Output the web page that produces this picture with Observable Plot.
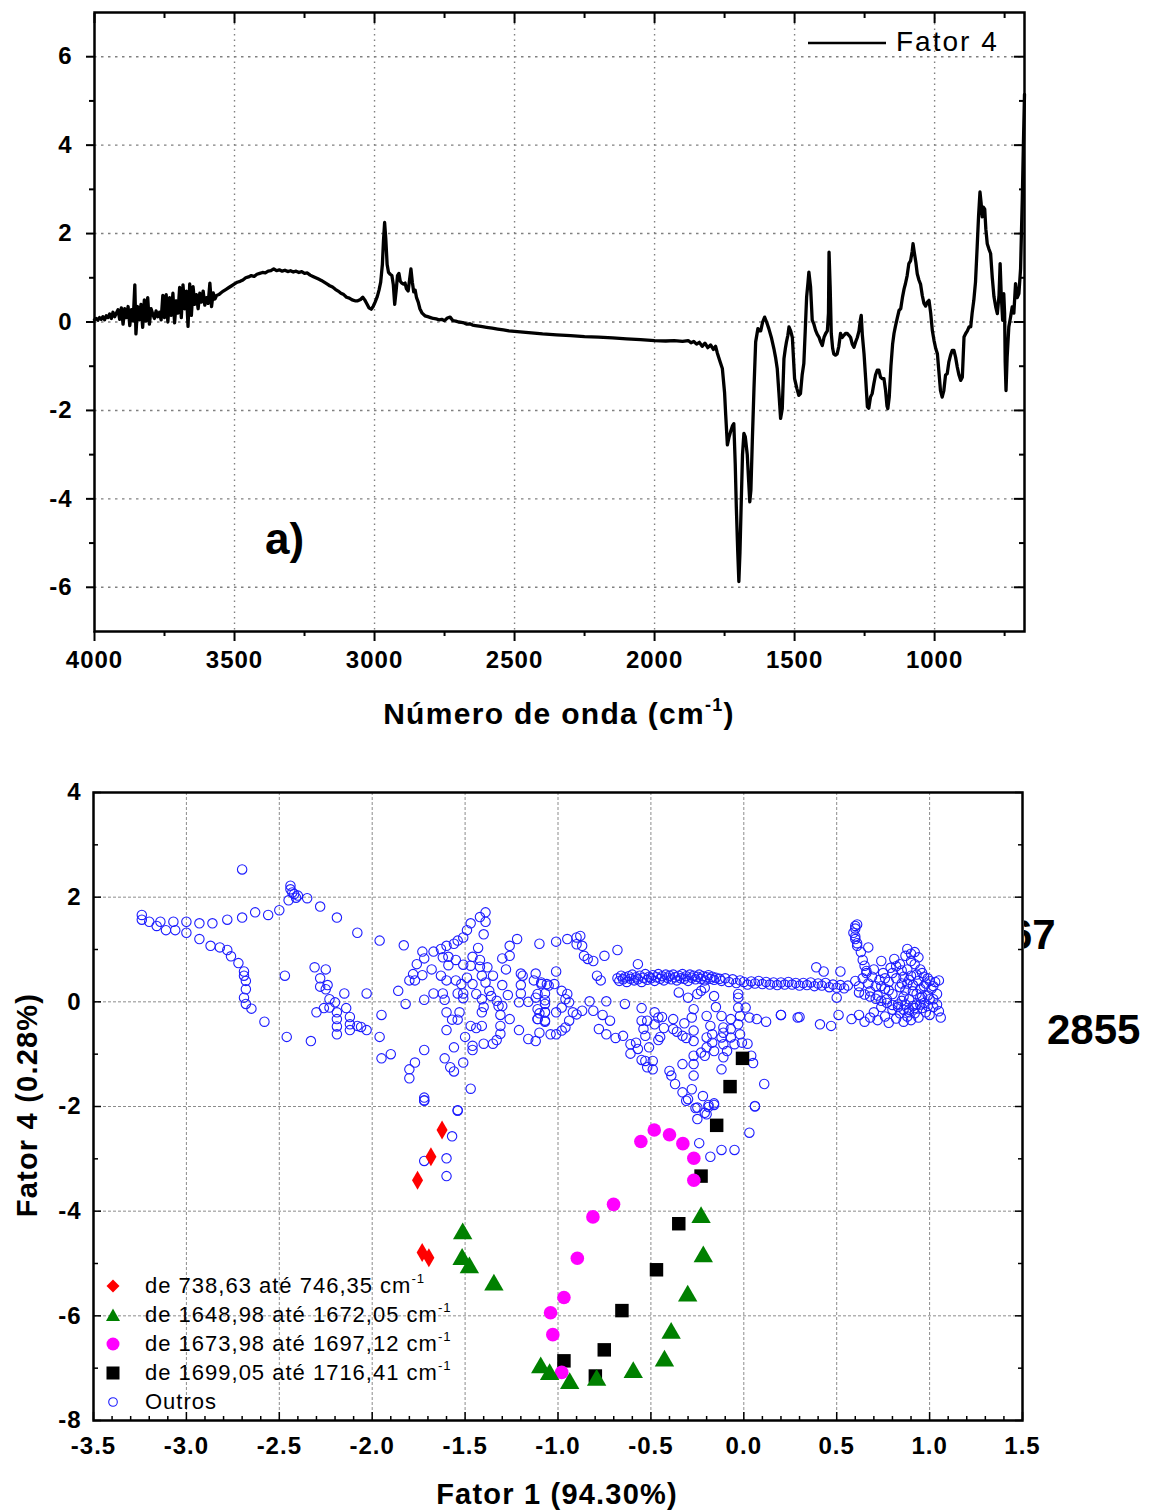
<!DOCTYPE html>
<html>
<head>
<meta charset="utf-8">
<script src="https://cdn.jsdelivr.net/npm/d3@7"></script>
<script src="https://cdn.jsdelivr.net/npm/@observablehq/plot@0.6"></script>
<style>
  body { margin: 0; background: #fff; }
  #wrap { position: relative; width: 1151px; height: 1512px; overflow: hidden; background: #fff; }
  .abs { position: absolute; }
  .ov { position: absolute; font-family: 'Liberation Sans', Arial, sans-serif; color: #000; white-space: nowrap; line-height: 1; }
  .ov sup { font-size: 0.6em; vertical-align: 0.75em; line-height: 0; }
</style>
</head>
<body>
<div id="wrap">
  <div id="top" class="abs" style="left:0;top:0"></div>
  <div id="bot" class="abs" style="left:0;top:740px"></div>
</div>
<script>
// ---------------- DATA ----------------
// Panel a) spectrum: Fator 4 loading vs wavenumber (cm-1)
const spectrumWn = [4000,3994,3988,3982,3976,3970,3964,3958,3952,3946,3940,3934,3928,3922,3916,3910,3904,3898,3892,3886,3880,3874,3868,3862,3856,3852,3846,3840,3834,3828,3822,3816,3810,3804,3798,3792,3786,3780,3774,3768,3762,3756,3750,3744,3738,3732,3726,3720,3714,3708,3702,3696,3690,3684,3678,3672,3666,3660,3654,3648,3642,3636,3630,3624,3618,3612,3606,3600,3594,3588,3582,3576,3570,3564,3556,3548,3540,3530,3520,3510,3500,3490,3480,3470,3460,3450,3440,3430,3420,3410,3400,3390,3380,3370,3360,3350,3340,3330,3320,3310,3300,3290,3280,3270,3260,3250,3240,3230,3220,3210,3200,3190,3180,3170,3160,3150,3140,3130,3120,3110,3100,3090,3080,3070,3060,3050,3042,3035,3028,3020,3012,3005,2998,2990,2984,2978,2972,2968,2964,2960,2955,2950,2944,2938,2933,2928,2923,2918,2913,2908,2903,2897,2891,2886,2880,2875,2870,2865,2860,2855,2850,2844,2838,2830,2820,2810,2800,2790,2780,2770,2760,2750,2740,2730,2720,2710,2700,2690,2680,2670,2660,2650,2640,2620,2600,2580,2560,2540,2520,2500,2450,2400,2350,2300,2250,2200,2150,2100,2050,2000,1960,1930,1900,1880,1870,1860,1850,1840,1830,1820,1810,1800,1790,1782,1776,1766,1758,1750,1746,1740,1734,1729,1722,1717,1712,1708,1703,1699,1695,1691,1686,1681,1676,1669,1664,1660,1656,1651,1645,1639,1631,1626,1621,1614,1607,1600,1592,1583,1574,1568,1562,1556,1550,1544,1538,1533,1529,1524,1520,1514,1508,1500,1492,1485,1479,1473,1467,1462,1457,1452,1449,1443,1437,1431,1425,1419,1413,1407,1401,1395,1389,1383,1379,1377,1373,1369,1364,1360,1354,1348,1342,1336,1330,1324,1318,1312,1306,1300,1294,1288,1282,1276,1270,1265,1262,1258,1252,1246,1240,1235,1229,1223,1217,1211,1205,1199,1193,1187,1181,1175,1170,1167,1162,1156,1150,1145,1140,1133,1127,1121,1115,1109,1104,1098,1092,1086,1080,1077,1072,1067,1062,1056,1050,1044,1038,1032,1026,1020,1014,1008,1002,996,990,985,979,973,967,961,955,949,943,937,931,925,919,913,907,901,895,889,883,877,871,866,860,854,848,843,838,834,830,826,821,817,812,806,800,794,788,782,776,770,766,762,757,753,750,748,745,741,735,729,723,717,711,705,699,693,690,687,683,679];
const spectrumF4 = [0.05,0.08,0.04,0.10,0.06,0.12,0.05,0.14,0.10,0.18,0.08,0.22,0.12,0.20,0.28,0.06,0.32,-0.05,0.30,0.10,0.35,-0.08,0.28,0.02,0.84,-0.27,0.35,0.05,0.40,-0.12,0.50,0.02,0.55,-0.05,0.30,0.18,0.08,0.25,0.12,0.22,0.05,0.60,0.10,0.62,0.00,0.55,0.15,0.65,-0.02,0.48,0.20,0.78,0.10,0.84,0.30,0.70,-0.10,0.86,0.15,0.80,0.40,0.62,0.30,0.65,0.45,0.70,0.38,0.55,0.42,0.88,0.35,0.66,0.52,0.60,0.62,0.66,0.70,0.74,0.78,0.82,0.86,0.90,0.92,0.95,1.00,1.02,1.05,1.03,1.08,1.10,1.12,1.11,1.15,1.16,1.20,1.16,1.18,1.15,1.17,1.14,1.16,1.13,1.15,1.12,1.14,1.10,1.11,1.06,1.03,1.00,0.97,0.94,0.90,0.86,0.82,0.79,0.74,0.70,0.65,0.62,0.56,0.54,0.50,0.48,0.48,0.51,0.56,0.50,0.42,0.32,0.29,0.35,0.45,0.58,0.72,0.90,1.30,1.85,2.25,1.90,1.30,1.12,1.08,1.05,0.85,0.40,0.70,1.05,1.10,0.92,0.88,0.86,0.88,0.75,0.70,0.95,1.20,0.90,0.68,0.72,0.55,0.45,0.30,0.20,0.14,0.12,0.10,0.08,0.07,0.05,0.06,0.03,0.09,0.11,0.03,0.02,0.00,-0.01,-0.02,-0.05,-0.04,-0.07,-0.08,-0.10,-0.12,-0.14,-0.16,-0.18,-0.20,-0.21,-0.24,-0.27,-0.29,-0.31,-0.33,-0.34,-0.36,-0.38,-0.40,-0.42,-0.43,-0.42,-0.44,-0.42,-0.47,-0.44,-0.50,-0.46,-0.55,-0.48,-0.58,-0.52,-0.62,-0.55,-0.70,-0.90,-1.05,-1.60,-2.10,-2.78,-2.60,-2.49,-2.35,-2.30,-3.20,-4.20,-5.20,-5.87,-5.20,-4.20,-3.00,-2.52,-2.60,-3.00,-3.60,-4.07,-3.80,-2.70,-1.50,-0.45,-0.15,-0.20,-0.20,0.00,0.11,0.00,-0.15,-0.35,-0.60,-0.80,-1.05,-1.60,-2.18,-1.96,-0.83,-0.60,-0.45,-0.30,-0.11,-0.20,-0.35,-1.28,-1.50,-1.66,-1.62,-1.20,-0.94,-0.20,0.57,0.90,1.13,0.80,0.04,-0.05,-0.19,-0.28,-0.34,-0.45,-0.53,-0.35,-0.26,-0.20,0.20,1.58,0.80,-0.26,-0.60,-0.72,-0.75,-0.72,-0.55,-0.26,-0.35,-0.30,-0.26,-0.26,-0.30,-0.35,-0.50,-0.57,-0.45,-0.35,-0.20,0.05,0.15,-0.30,-0.72,-1.30,-1.92,-1.95,-1.70,-1.62,-1.40,-1.20,-1.09,-1.09,-1.25,-1.28,-1.28,-1.55,-1.90,-1.96,-1.70,-1.00,-0.50,-0.26,-0.10,0.10,0.26,0.30,0.55,0.75,0.87,1.05,1.32,1.38,1.60,1.77,1.55,1.35,1.09,0.95,0.85,0.60,0.42,0.36,0.45,0.49,0.20,-0.20,-0.42,-0.60,-0.72,-1.10,-1.55,-1.70,-1.55,-1.20,-1.17,-0.90,-0.75,-0.64,-0.64,-0.80,-1.02,-1.20,-1.32,-1.25,-0.34,-0.26,-0.20,-0.11,-0.11,0.20,0.49,0.90,1.70,2.40,2.94,2.70,2.38,2.60,2.55,2.10,1.77,1.65,1.55,1.00,0.57,0.35,0.19,0.60,1.32,0.60,0.04,0.64,0.20,-0.90,-1.55,-0.80,-0.11,0.10,0.34,0.20,0.87,0.55,0.64,1.20,2.00,2.75,4.00,5.15];

// Panel b) scores: [Fator 1, Fator 4]
const serie738 = [[-1.624,-2.45],[-1.684,-2.96],[-1.756,-3.41],[-1.731,-4.79],[-1.695,-4.89]];
const serie1648 = [[-1.513,-4.43],[-1.516,-4.92],[-1.477,-5.08],[-1.345,-5.41],[-1.093,-6.99],[-1.045,-7.12],[-0.937,-7.29],[-0.792,-7.23],[-0.595,-7.08],[-0.427,-6.86],[-0.391,-6.33],[-0.302,-5.62],[-0.218,-4.87],[-0.230,-4.12]];
const serie1673 = [[-0.554,-2.67],[-0.482,-2.45],[-0.400,-2.54],[-0.328,-2.71],[-0.269,-2.99],[-0.269,-3.41],[-0.701,-3.87],[-0.812,-4.11],[-0.896,-4.90],[-0.968,-5.65],[-1.040,-5.94],[-1.028,-6.36],[-0.980,-7.08]];
const serie1699 = [[-0.007,-1.08],[-0.074,-1.62],[-0.146,-2.36],[-0.230,-3.33],[-0.350,-4.24],[-0.470,-5.12],[-0.656,-5.90],[-0.751,-6.65],[-0.968,-6.86],[-0.799,-7.15]];
const outros = [
[-2.70,2.53],[-3.24,1.66],[-3.24,1.57],[-3.20,1.53],[-3.16,1.45],[-3.14,1.53],[-3.11,1.37],[-3.07,1.53],[-3.06,1.37],[-3.00,1.53],[-3.00,1.32],[-2.93,1.50],[-2.93,1.20],[-2.86,1.50],[-2.87,1.07],[-2.82,1.04],[-2.78,1.57],[-2.78,0.99],[-2.76,0.87],[-2.72,0.74],[-2.70,1.61],[-2.69,0.58],[-2.69,0.50],[-2.68,0.40],[-2.68,0.24],[-2.69,0.08],[-2.68,-0.04],[-2.65,-0.13],[-2.63,1.71],[-2.58,-0.38],[-2.56,1.66],[-2.50,1.75],[-2.47,0.50],[-2.46,-0.67],[-2.45,1.94],[-2.44,2.22],[-2.44,2.15],[-2.43,2.09],[-2.42,2.06],[-2.40,2.03],[-2.41,1.99],[-2.35,1.98],[-2.33,-0.75],[-2.31,0.66],[-2.28,1.82],[-2.25,0.62],[-2.28,0.45],[-2.24,0.32],[-2.28,0.29],[-2.25,0.24],[-2.23,0.05],[-2.20,-0.01],[-2.30,-0.20],[-2.26,-0.12],[-2.23,-0.11],[-2.19,-0.20],[-2.19,-0.33],[-2.19,-0.47],[-2.19,-0.62],[-2.19,1.61],[-2.15,0.16],[-2.14,-0.12],[-2.12,-0.29],[-2.12,-0.43],[-2.12,-0.54],[-2.08,-0.46],[-2.06,-0.48],[-2.03,-0.54],[-2.08,1.32],[-2.03,0.16],[-1.96,1.17],[-1.95,-0.25],[-1.96,-0.67],[-1.95,-1.08],[-1.90,-1.00],[-1.86,0.21],[-1.83,1.08],[-1.82,-0.04],[-1.80,-1.29],[-1.80,-1.46],[-1.77,-1.16],[-1.72,-0.92],[-1.72,-1.83],[-1.72,-1.88],[-1.72,0.04],[-1.67,0.16],[-1.62,0.16],[-1.61,0.04],[-1.60,-0.20],[-1.61,-1.08],[-1.60,-0.54],[-1.58,-1.25],[-1.56,-0.87],[-1.56,-1.33],[-1.57,-0.34],[-1.54,-0.34],[-1.53,-0.20],[-1.54,-2.07],[-1.51,-1.16],[-1.50,-0.67],[-1.47,-1.66],[-1.46,-0.84],[-1.46,-0.92],[-1.47,-0.46],[-1.44,-0.50],[-1.41,-0.46],[-1.40,-0.80],[-1.35,-0.80],[-1.33,-0.73],[-1.31,-0.61],[-1.31,-0.46],[-1.31,-0.25],[-1.26,-0.33],[-1.21,-0.54],[-1.16,-0.71],[-1.12,-0.75],[-1.10,-0.59],[-1.07,-0.38],[-1.11,-0.33],
[-1.39,1.71],[-1.42,1.62],[-1.39,1.53],[-1.47,1.50],[-1.49,1.37],[-1.51,1.23],[-1.54,1.17],[-1.56,1.11],[-1.60,1.07],[-1.63,1.01],[-1.67,0.96],[-1.73,0.96],[-1.72,0.83],[-1.76,0.72],[-1.78,0.53],[-1.80,0.41],[-1.77,0.41],[-1.73,0.51],[-1.68,0.62],[-1.62,0.85],[-1.59,0.86],[-1.55,0.80],[-1.59,0.70],[-1.51,0.71],[-1.63,0.50],[-1.60,0.41],[-1.55,0.41],[-1.49,0.46],[-1.46,0.86],[-1.43,1.03],[-1.40,1.29],[-1.42,0.80],[-1.42,0.67],[-1.38,0.66],[-1.41,0.50],[-1.46,0.34],[-1.47,0.69],[-1.52,0.34],[-1.54,0.16],[-1.51,0.16],[-1.51,0.07],[-1.44,0.15],[-1.41,0.05],[-1.40,-0.10],[-1.41,-0.20],[-1.39,0.37],[-1.37,0.21],[-1.35,0.50],[-1.36,0.11],[-1.33,0.02],[-1.32,-0.08],[-1.30,0.32],[-1.28,0.62],[-1.27,0.13],[-1.30,-0.08],[-1.30,0.83],[-1.26,0.88],[-1.26,1.07],[-1.22,1.20],[-1.21,-0.01],[-1.20,0.54],[-1.19,0.50],[-1.20,0.32],[-1.20,0.16],[-1.16,0.00],[-1.12,0.54],[-1.13,0.41],[-1.10,1.11],[-1.09,0.34],[-1.11,0.15],[-1.12,0.08],[-1.07,0.16],[-1.07,-0.04],[-1.07,-0.20],[-1.06,0.34],[-1.10,-0.22],
[-1.01,1.15],[-0.95,1.20],[-0.90,1.23],[-0.88,1.26],[-0.90,1.10],[-0.87,1.07],[-0.86,0.88],[-0.84,0.82],[-0.81,0.78],[-0.75,0.88],[-0.68,0.99],[-1.01,0.58],[-0.79,0.50],[-0.77,0.41],[-1.02,0.34],[-1.09,0.37],[-1.05,0.31],[-0.98,0.21],[-0.95,0.15],[-0.96,0.05],[-0.94,-0.01],[-0.98,-0.11],[-1.01,-0.20],[-1.07,0.03],[-1.11,-0.14],[-1.07,-0.20],[-1.11,-0.33],[-1.07,-0.36],[-0.92,-0.20],[-0.90,-0.24],[-0.87,-0.17],[-0.94,-0.36],[-0.96,-0.49],[-0.98,-0.55],[-1.01,-0.62],[-1.04,-0.62],[-0.83,0.01],[-0.81,-0.17],[-0.76,-0.25],[-0.72,-0.36],[-0.74,0.01],[-0.78,-0.52],[-0.74,-0.62],[-0.69,-0.69],[-0.65,-0.65],[-0.64,-0.04],[-0.57,0.72],[-0.55,-0.12],[-0.55,-0.36],[-0.52,-0.36],[-0.61,-0.81],[-0.61,-0.99],[-0.58,-0.78],[-0.57,-0.90],[-0.55,-1.11],[-0.53,-1.13],[-0.49,-1.13],[-0.52,-1.25],[-0.49,-1.29],[-0.51,-0.87],[-0.53,-0.65],[-0.54,-0.52],[-0.48,-0.20],[-0.48,-0.43],[-0.46,-0.30],[-0.44,-0.29],[-0.43,-0.50],[-0.45,-0.67],[-0.46,-0.73],[-0.38,-0.33],[-0.38,-0.52],[-0.36,-0.57],[-0.33,-0.65],[-0.32,-0.41],[-0.31,-0.69],[-0.40,-1.32],[-0.39,-1.41],[-0.37,-1.57],[-0.33,-1.19],[-0.33,-1.73],[-0.30,-1.86],[-0.28,-1.67],[-0.27,-1.41],[-0.27,-1.19],[-0.27,-1.03],[-0.27,-0.75],[-0.27,-0.55],[-0.28,-0.30],[-0.27,-0.14],[-0.30,0.08],[-0.35,0.18],[-0.25,0.15],[-0.23,0.21],[-0.21,0.27],[-0.22,-1.80],[-0.25,-2.02],[-0.21,-2.12],[-0.19,-1.97],[-0.16,-1.94],[-0.23,-0.97],[-0.21,-1.03],[-0.20,-0.87],[-0.20,-0.68],[-0.20,-0.27],[-0.18,-0.46],[-0.17,-0.62],[-0.17,-0.78],[-0.16,-0.94],[-0.15,-0.10],[-0.16,0.11],[-0.12,-0.27],[-0.11,-0.49],[-0.11,-0.59],[-0.11,-0.81],[-0.12,-0.68],[-0.11,-1.06],[-0.12,-1.29],[-0.09,-0.94],[-0.07,-0.33],[-0.07,-0.52],[-0.07,-0.68],[-0.05,-0.81],[-0.03,0.15],[-0.03,0.08],[-0.03,-0.11],[-0.02,-0.27],[-0.03,-0.43],[-0.02,-0.62],[0.01,-0.11],[0.02,-0.80],[-0.01,-0.78],[0.03,-0.30],[0.07,-0.33],[0.12,-0.38],[0.04,-1.03],[0.05,-1.17],[0.11,-1.57],[0.06,-1.99],[0.20,-0.25],[0.29,-0.30],
[-1.57,-2.57],[-1.72,-3.04],[-1.60,-2.99],[-1.60,-3.33],[-1.54,-2.08],[-1.72,-1.89],[-0.31,-1.89],[-0.26,-2.03],[-0.19,-2.01],[-0.16,-1.97],[-0.20,-2.15],[-0.25,-2.24],[0.06,-2.00],[0.03,-2.50],[-0.24,-2.70],[-0.12,-2.83],[-0.05,-2.83],[-0.18,-2.96],
[-0.68,0.45],[-0.67,0.40],[-0.66,0.50],[-0.65,0.43],[-0.64,0.47],[-0.63,0.38],[-0.62,0.49],[-0.61,0.44],[-0.60,0.52],[-0.59,0.41],[-0.58,0.47],[-0.57,0.43],[-0.56,0.50],[-0.55,0.38],[-0.54,0.46],[-0.53,0.53],[-0.52,0.42],[-0.51,0.48],[-0.50,0.45],[-0.49,0.51],[-0.48,0.40],[-0.47,0.47],[-0.46,0.53],[-0.45,0.44],[-0.44,0.49],[-0.43,0.41],[-0.42,0.52],[-0.41,0.46],[-0.40,0.50],[-0.39,0.43],[-0.38,0.52],[-0.37,0.47],[-0.36,0.41],[-0.35,0.50],[-0.34,0.45],[-0.33,0.53],[-0.32,0.44],[-0.31,0.49],[-0.30,0.40],[-0.29,0.52],[-0.28,0.46],[-0.27,0.50],[-0.26,0.43],[-0.25,0.48],[-0.24,0.52],[-0.23,0.44],[-0.22,0.49],[-0.21,0.41],[-0.20,0.47],[-0.19,0.51],[-0.18,0.44],[-0.17,0.48],[-0.16,0.42],[-0.15,0.46],[-0.13,0.44],[-0.12,0.40],[-0.10,0.45],[-0.08,0.38],[-0.06,0.43],[-0.04,0.36],[-0.02,0.41],[0.00,0.38],[0.02,0.33],[0.04,0.39],[0.06,0.35],[0.08,0.40],[0.10,0.34],[0.12,0.38],[0.14,0.33],[0.16,0.37],[0.18,0.32],[0.20,0.37],[0.22,0.33],[0.24,0.38],[0.26,0.33],[0.28,0.36],[0.30,0.31],[0.32,0.36],[0.34,0.32],[0.36,0.37],[0.38,0.30],[0.40,0.35],[0.42,0.31],[0.44,0.36],[0.46,0.28],[0.48,0.33],[0.50,0.27],[0.52,0.32],[0.54,0.26],[0.56,0.31],
[0.60,0.40],[0.62,0.30],[0.64,0.45],[0.66,0.55],[0.67,0.35],[0.68,0.20],[0.69,0.48],[0.70,0.62],[0.71,0.30],[0.72,0.12],[0.73,0.42],[0.74,0.78],[0.75,0.55],[0.76,0.25],[0.77,0.05],[0.78,0.38],[0.79,0.65],[0.80,0.15],[0.81,0.82],[0.82,0.45],[0.83,-0.05],[0.84,0.28],[0.85,0.60],[0.86,0.10],[0.87,0.88],[0.88,1.01],[0.88,0.35],[0.89,-0.15],[0.90,0.50],[0.91,0.20],[0.92,0.72],[0.93,-0.05],[0.94,0.40],[0.95,0.62],[0.96,0.10],[0.97,0.30],[0.98,-0.20],[0.99,0.45],[1.00,0.05],[1.01,0.25],[1.02,-0.10],[1.03,0.38],[1.04,0.15],[1.05,0.41],[1.06,-0.30],[1.05,-0.18],[1.04,-0.05],
[0.58,-0.33],[0.62,-0.25],[0.65,-0.38],[0.68,-0.30],[0.70,-0.20],[0.72,-0.35],[0.74,-0.10],[0.76,-0.28],[0.78,-0.40],[0.80,-0.15],[0.82,-0.32],[0.84,-0.22],[0.86,-0.38],[0.88,-0.28],[0.90,-0.35],[0.92,-0.22],[0.94,-0.30],[0.96,-0.12],[1.00,-0.25],[0.87,-0.05],[0.91,-0.08],[0.85,0.02],[0.89,0.05],[0.93,0.15],[0.95,0.25],[0.97,-0.02],[0.99,0.12],[1.02,0.05],
[0.62,0.18],[0.65,0.14],[0.68,0.10],[0.71,0.06],[0.74,0.02],[0.77,-0.02],[0.80,-0.06],[0.83,-0.10],[0.86,-0.15],[0.89,-0.20],[0.92,-0.12],[0.95,-0.05],
[0.85,0.35],[0.87,0.22],[0.89,0.42],[0.91,0.32],[0.93,0.52],[0.95,0.08],[0.97,0.48],[0.99,-0.08],[0.88,0.62],[0.90,0.78],[0.84,0.72],[0.86,0.48],[0.80,0.55],[0.78,0.22],[0.76,0.45],[0.74,0.30],[0.82,0.68],[0.96,0.55],[0.98,0.35],[1.00,0.40],[1.02,0.30],[0.94,0.85],[0.92,0.95],[0.90,0.92],
[0.61,1.48],[0.60,1.45],[0.60,1.40],[0.59,1.32],[0.60,1.25],[0.60,1.20],[0.61,1.12],[0.61,1.07],[0.63,0.95],[0.67,1.04],[0.64,0.80],[0.65,0.69],[0.66,0.59],
[0.39,0.66],[0.43,0.58],[0.52,0.58],[0.50,0.08],[0.51,-0.25],[0.41,-0.43],[0.47,-0.46],[0.30,-0.29],[0.20,-0.25]
];

// ticks
const topXMajor = [4000,3500,3000,2500,2000,1500,1000];
const topXMinor = [3750,3250,2750,2250,1750,1250,750];
const topYMajor = [-6,-4,-2,0,2,4,6];
const topYMinor = [-5,-3,-1,1,3,5];
const botXMajor = [-3.5,-3.0,-2.5,-2.0,-1.5,-1.0,-0.5,0.0,0.5,1.0,1.5];
const botXMinor = d3.range(-34,15).map(i => i/10).filter(v => Math.abs(v*2 - Math.round(v*2)) > 1e-6);
const botYMajor = [-8,-6,-4,-2,0,2,4];
const botYMinor = [-7,-5,-3,-1,1,3];
const legendLabels = ["de 738,63 até 746,35 cm", "de 1648,98 até 1672,05 cm", "de 1673,98 até 1697,12 cm", "de 1699,05 até 1716,41 cm", "Outros"];

// ---------------- CHARTS ----------------
const font = "'Liberation Sans', Arial, sans-serif";
const axisStyle = {fontFamily: font, fontSize: "24px", fontWeight: "bold", letterSpacing: "1px", background: "transparent", overflow: "visible"};
const spectrum = spectrumWn.map((w, i) => ({wn: w, v: spectrumF4[i]}));

const topPlot = Plot.plot({
  width: 1151, height: 740,
  marginLeft: 94, marginRight: 127, marginTop: 12, marginBottom: 109,
  style: axisStyle,
  x: {domain: [4000, 679]},
  y: {domain: [-7, 7]},
  marks: [
    Plot.gridX({ticks: topXMajor.slice(1), stroke: "#808080", strokeOpacity: 1, strokeWidth: 1.4, strokeDasharray: "1.5,4"}),
    Plot.gridY({ticks: topYMajor, stroke: "#808080", strokeOpacity: 1, strokeWidth: 1.4, strokeDasharray: "2.5,4.5"}),
    Plot.line(spectrum, {x: "wn", y: "v", stroke: "black", strokeWidth: 3.3, strokeLinejoin: "round"}),
    Plot.frame({stroke: "black", strokeWidth: 2.5}),
    Plot.axisX({ticks: topXMajor, anchor: "bottom", tickSize: 10, tickPadding: 9, strokeWidth: 2, tickFormat: d => String(d), label: null}),
    Plot.axisX({ticks: topXMinor, anchor: "bottom", tickSize: 5, strokeWidth: 2, fill: "none", label: null}),
    Plot.axisX({ticks: topXMajor, anchor: "top", tickSize: 10, dy: 10, strokeWidth: 2, fill: "none", label: null}),
    Plot.axisX({ticks: topXMinor, anchor: "top", tickSize: 5, dy: 5, strokeWidth: 2, fill: "none", label: null}),
    Plot.axisY({ticks: topYMajor, anchor: "left", tickSize: 8, tickPadding: 14, strokeWidth: 2, tickFormat: d => String(d), label: null}),
    Plot.axisY({ticks: topYMinor, anchor: "left", tickSize: 5, strokeWidth: 2, fill: "none", label: null}),
    Plot.axisY({ticks: topYMajor, anchor: "right", tickSize: 11, dx: -11, strokeWidth: 2, fill: "none", label: null}),
    Plot.axisY({ticks: topYMinor, anchor: "right", tickSize: 6, dx: -6, strokeWidth: 2, fill: "none", label: null})
  ]
});
document.getElementById("top").appendChild(topPlot);

const fmt1 = d => d.toFixed(1);
const botPlot = Plot.plot({
  width: 1151, height: 772,
  marginLeft: 93, marginRight: 129, marginTop: 52, marginBottom: 92,
  style: axisStyle,
  x: {domain: [-3.5, 1.5]},
  y: {domain: [-8, 4]},
  marks: [
    Plot.gridX({ticks: botXMajor.slice(1, -1), stroke: "#8c8c8c", strokeOpacity: 1, strokeWidth: 1, strokeDasharray: "3,2"}),
    Plot.gridY({ticks: botYMajor.slice(1, -1), stroke: "#8c8c8c", strokeOpacity: 1, strokeWidth: 1, strokeDasharray: "3,2"}),
    Plot.dot(outros, {x: d => d[0], y: d => d[1], r: 4.7, stroke: "#1e1eff", fill: "none", strokeWidth: 1.1}),
    Plot.dot(serie1699, {x: d => d[0], y: d => d[1], symbol: "square", r: 7.6, fill: "black"}),
    Plot.dot(serie1673, {x: d => d[0], y: d => d[1], symbol: "circle", r: 6.8, fill: "#ff00ff"}),
    Plot.dot(serie1648, {x: d => d[0], y: d => d[1], symbol: "triangle", r: 7.2, fill: "#008000"}),
    Plot.dot(serie738, {x: d => d[0], y: d => d[1], symbol: "diamond", r: 5.8, fill: "#ff0000"}),
    Plot.frame({stroke: "black", strokeWidth: 2.5}),
    Plot.axisX({ticks: botXMajor, anchor: "bottom", tickSize: 0, tickPadding: 16, tickFormat: fmt1, label: null}),
    Plot.axisX({ticks: botXMajor, anchor: "bottom", tickSize: 8, dy: -8, strokeWidth: 1.5, fill: "none", label: null}),
    Plot.axisX({ticks: botXMinor, anchor: "bottom", tickSize: 4, dy: -4, strokeWidth: 1.5, fill: "none", label: null}),
    Plot.axisY({ticks: botYMajor, anchor: "left", tickSize: 0, tickPadding: 12, tickFormat: d => String(d), label: null}),
    Plot.axisY({ticks: botYMajor, anchor: "left", tickSize: 8, dx: 8, strokeWidth: 1.5, fill: "none", label: null}),
    Plot.axisY({ticks: botYMinor, anchor: "left", tickSize: 5, dx: 5, strokeWidth: 1.5, fill: "none", label: null}),
    Plot.axisY({ticks: botYMajor, anchor: "right", tickSize: 8, dx: -8, strokeWidth: 1.5, fill: "none", label: null}),
    Plot.axisY({ticks: botYMinor, anchor: "right", tickSize: 5, dx: -5, strokeWidth: 1.5, fill: "none", label: null})
  ]
});
document.getElementById("bot").appendChild(botPlot);

// ---------------- TEXT / LEGENDS ----------------
const wrap = document.getElementById("wrap");
function addDiv(html, css) {
  const d = document.createElement("div");
  d.className = "ov";
  d.innerHTML = html;
  Object.assign(d.style, css);
  wrap.appendChild(d);
  return d;
}
// axis titles
addDiv("Número de onda (cm<sup>-1</sup>)", {left: "559px", top: "699px", transform: "translateX(-50%)", fontSize: "30px", fontWeight: "bold", letterSpacing: "1.3px"});
addDiv("Fator 1 (94.30%)", {left: "557px", top: "1480px", transform: "translateX(-50%)", fontSize: "29px", fontWeight: "bold", letterSpacing: "1.2px"});
addDiv("Fator 4 (0.28%)", {left: "27px", top: "1105px", transform: "translate(-50%,-50%) rotate(-90deg)", fontSize: "29px", fontWeight: "bold", letterSpacing: "1.2px"});
// panel label
addDiv("a)", {left: "265px", top: "517px", fontSize: "44px", fontWeight: "bold"});
// top legend
addDiv('<svg width="80" height="6" style="display:block"><line x1="0" y1="3" x2="78" y2="3" stroke="black" stroke-width="2.5"/></svg>', {left: "808px", top: "40px"});
addDiv("Fator 4", {left: "896px", top: "28px", fontSize: "28px", letterSpacing: "2px"});
// stray labels at right of lower panel (partly hidden behind the frame, as in the source)
addDiv('<span style="position:absolute;left:-15px;top:0">67</span>', {left: "1024px", top: "914px", width: "127px", height: "50px", overflow: "hidden", fontSize: "42px", fontWeight: "bold"});
addDiv("2855", {left: "1047px", top: "1009px", fontSize: "42px", fontWeight: "bold"});
// lower legend
const symbols = [
  '<polygon points="7,0.5 13.5,7 7,13.5 0.5,7" fill="#ff0000"/>',
  '<polygon points="7,0.5 14,13 0,13" fill="#008000"/>',
  '<circle cx="7" cy="7" r="6.5" fill="#ff00ff"/>',
  '<rect x="0.5" y="0.5" width="13" height="13" fill="black"/>',
  '<circle cx="7" cy="7" r="4.3" fill="none" stroke="#1e1eff" stroke-width="1.1"/>'
];
legendLabels.forEach((lab, i) => {
  const cy = 1286 + i * 29;
  addDiv(`<svg width="14" height="14" style="display:block">${symbols[i]}</svg>`, {left: "106px", top: (cy - 7) + "px"});
  addDiv(i < 4 ? `${lab}<sup>-1</sup>` : lab, {left: "145px", top: (cy - 11) + "px", fontSize: "22px", letterSpacing: "1px"});
});
</script>
</body>
</html>
